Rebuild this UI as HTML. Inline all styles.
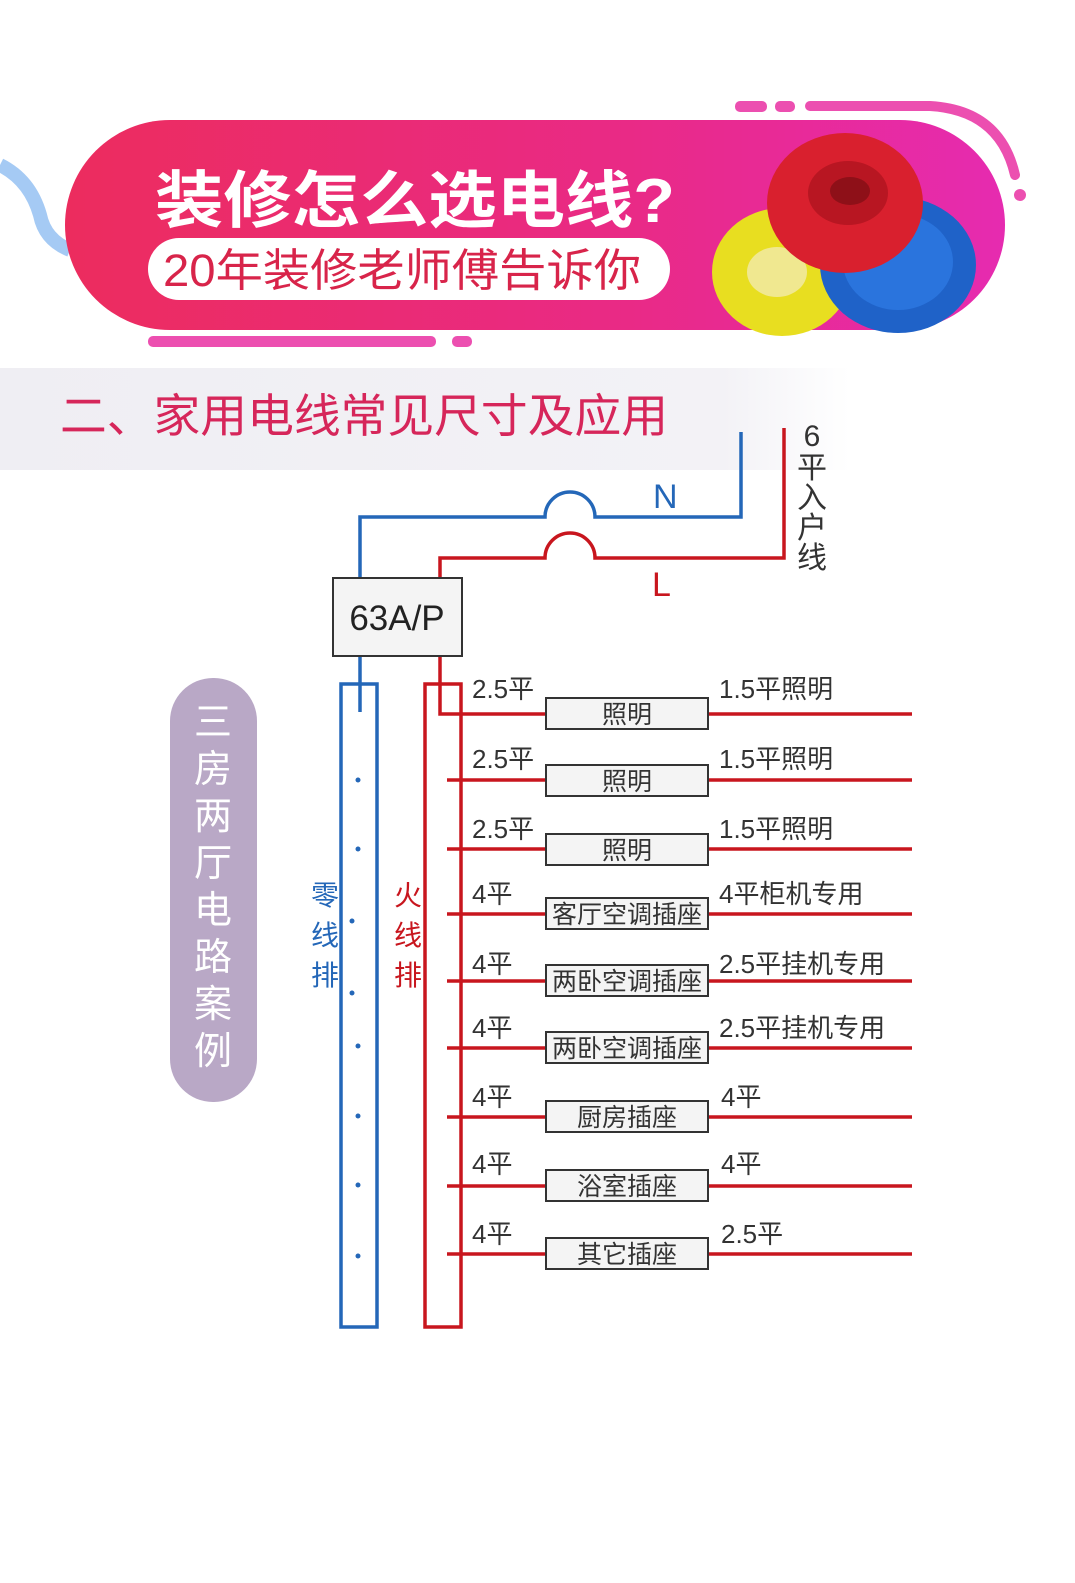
<!DOCTYPE html>
<html><head><meta charset="utf-8"><style>
html,body{margin:0;padding:0;background:#fff}
svg{display:block}
text{font-family:"Liberation Sans","Noto Sans CJK SC",sans-serif}
</style></head><body>
<svg width="1075" height="1583" viewBox="0 0 1075 1583" xmlns="http://www.w3.org/2000/svg">
<defs>
<linearGradient id="pg" x1="0" x2="1" y1="0" y2="0">
<stop offset="0" stop-color="#ec2c5e"/><stop offset="0.6" stop-color="#e92a86"/><stop offset="1" stop-color="#e62bb0"/>
</linearGradient>
<linearGradient id="band" x1="0" x2="1"><stop offset="0" stop-color="#efeef3"/><stop offset="0.85" stop-color="#f3f2f6"/><stop offset="1" stop-color="#ffffff"/></linearGradient>
</defs>
<rect width="1075" height="1583" fill="#fff"/>
<path d="M0 165 Q30 180 40 215 Q45 240 70 250" stroke="#7fb3f0" stroke-width="14" fill="none" opacity="0.7"/>
<rect x="735" y="101" width="32" height="11" rx="5" fill="#ec4fb0"/>
<rect x="775" y="101" width="20" height="11" rx="5" fill="#ec4fb0"/>
<path d="M810 106 L930 106 Q1000 110 1015 175" stroke="#ec4fb0" stroke-width="10" fill="none" stroke-linecap="round"/>
<circle cx="1020" cy="195" r="6" fill="#ec4fb0"/>
<rect x="148" y="336" width="288" height="11" rx="5" fill="#ec4fb0"/>
<rect x="452" y="336" width="20" height="11" rx="5" fill="#ec4fb0"/>
<rect x="65" y="120" width="940" height="210" rx="105" fill="url(#pg)"/>
<text x="155" y="222" font-size="62" font-weight="bold" fill="#fff" textLength="520" lengthAdjust="spacingAndGlyphs">装修怎么选电线?</text>
<rect x="148" y="238" width="522" height="62" rx="31" fill="#fff"/>
<text x="163" y="286" font-size="45" fill="#d8244a" textLength="478" lengthAdjust="spacingAndGlyphs">20年装修老师傅告诉你</text>
<ellipse cx="782" cy="272" rx="70" ry="64" fill="#e8de20"/>
<ellipse cx="777" cy="272" rx="30" ry="25" fill="#f0e890"/>
<ellipse cx="898" cy="265" rx="78" ry="68" fill="#1f62c8"/>
<ellipse cx="898" cy="262" rx="55" ry="48" fill="#2a74dd"/>
<ellipse cx="845" cy="203" rx="78" ry="70" fill="#d9202e"/>
<ellipse cx="848" cy="193" rx="40" ry="32" fill="#b81622"/>
<ellipse cx="850" cy="191" rx="20" ry="14" fill="#8e1018"/>
<rect x="0" y="368" width="850" height="102" fill="url(#band)"/>
<text x="60" y="432" font-size="46" fill="#d6265a" textLength="608" lengthAdjust="spacingAndGlyphs">二、家用电线常见尺寸及应用</text>
<g fill="none" stroke-width="3.5">
<path d="M741 432 V517 H595 A25 25 0 0 0 545 517 H360 V578" stroke="#2467b8"/>
<path d="M784 428 V558 H595 A25 25 0 0 0 545 558 H440 V578" stroke="#c8161e"/>
<path d="M360 656 V712" stroke="#2467b8"/>
<path d="M440 656 V714 H545" stroke="#c8161e"/>
<rect x="341" y="684" width="36" height="643" stroke="#2467b8"/>
<rect x="425" y="684" width="36" height="643" stroke="#c8161e"/>
</g>
<text x="653" y="508" font-size="34" fill="#2467b8">N</text>
<text x="652" y="596" font-size="34" fill="#c8161e">L</text>
<g font-size="30" fill="#333" text-anchor="middle">
<text x="812" y="446">6</text><text x="812" y="478">平</text><text x="812" y="508">入</text><text x="812" y="538">户</text><text x="812" y="568">线</text>
</g>
<rect x="333" y="578" width="129" height="78" fill="#f4f4f4" stroke="#333" stroke-width="2"/>
<text x="397" y="630" font-size="35" fill="#222" text-anchor="middle">63A/P</text>
<g fill="#2467b8">
<circle cx="358" cy="780" r="2.5"/><circle cx="358" cy="849" r="2.5"/><circle cx="352" cy="921" r="2.5"/><circle cx="352" cy="993" r="2.5"/><circle cx="358" cy="1046" r="2.5"/><circle cx="358" cy="1116" r="2.5"/><circle cx="358" cy="1185" r="2.5"/><circle cx="358" cy="1256" r="2.5"/>
</g>
<g font-size="28" fill="#2467b8" text-anchor="middle"><text x="325" y="905">零</text><text x="325" y="945">线</text><text x="325" y="985">排</text></g>
<g font-size="28" fill="#c8161e" text-anchor="middle"><text x="408" y="905">火</text><text x="408" y="945">线</text><text x="408" y="985">排</text></g>
<rect x="170" y="678" width="87" height="424" rx="43" fill="#b9a8c6"/>
<g font-size="38" fill="#fff" text-anchor="middle">
<text x="213" y="735">三</text><text x="213" y="782">房</text><text x="213" y="829">两</text><text x="213" y="876">厅</text><text x="213" y="923">电</text><text x="213" y="970">路</text><text x="213" y="1017">案</text><text x="213" y="1064">例</text>
</g>
<g font-size="25" fill="#333">
<g stroke="#c8161e" stroke-width="3.5">
<line x1="708" y1="714" x2="912" y2="714"/>
<line x1="447" y1="780" x2="545" y2="780"/><line x1="708" y1="780" x2="912" y2="780"/>
<line x1="447" y1="849" x2="545" y2="849"/><line x1="708" y1="849" x2="912" y2="849"/>
<line x1="447" y1="914" x2="545" y2="914"/><line x1="708" y1="914" x2="912" y2="914"/>
<line x1="447" y1="981" x2="545" y2="981"/><line x1="708" y1="981" x2="912" y2="981"/>
<line x1="447" y1="1048" x2="545" y2="1048"/><line x1="708" y1="1048" x2="912" y2="1048"/>
<line x1="447" y1="1117" x2="545" y2="1117"/><line x1="708" y1="1117" x2="912" y2="1117"/>
<line x1="447" y1="1186" x2="545" y2="1186"/><line x1="708" y1="1186" x2="912" y2="1186"/>
<line x1="447" y1="1254" x2="545" y2="1254"/><line x1="708" y1="1254" x2="912" y2="1254"/>
</g>
<g fill="#f4f4f4" stroke="#333" stroke-width="2">
<rect x="546" y="698" width="162" height="31"/>
<rect x="546" y="765" width="162" height="31"/>
<rect x="546" y="834" width="162" height="31"/>
<rect x="546" y="898" width="162" height="31"/>
<rect x="546" y="965" width="162" height="31"/>
<rect x="546" y="1032" width="162" height="31"/>
<rect x="546" y="1101" width="162" height="31"/>
<rect x="546" y="1170" width="162" height="31"/>
<rect x="546" y="1238" width="162" height="31"/>
</g>
<g text-anchor="middle">
<text x="627" y="723">照明</text><text x="627" y="790">照明</text><text x="627" y="859">照明</text>
<text x="627" y="923">客厅空调插座</text><text x="627" y="990">两卧空调插座</text><text x="627" y="1057">两卧空调插座</text>
<text x="627" y="1126">厨房插座</text><text x="627" y="1195">浴室插座</text><text x="627" y="1263">其它插座</text>
</g>
<g font-size="26">
<text x="472" y="698">2.5平</text><text x="472" y="768">2.5平</text><text x="472" y="838">2.5平</text>
<text x="472" y="903">4平</text><text x="472" y="973">4平</text><text x="472" y="1037">4平</text>
<text x="472" y="1106">4平</text><text x="472" y="1173">4平</text><text x="472" y="1243">4平</text>
<text x="719" y="698">1.5平照明</text><text x="719" y="768">1.5平照明</text><text x="719" y="838">1.5平照明</text>
<text x="719" y="903">4平柜机专用</text><text x="719" y="973">2.5平挂机专用</text><text x="719" y="1037">2.5平挂机专用</text>
<text x="721" y="1106">4平</text><text x="721" y="1173">4平</text><text x="721" y="1243">2.5平</text>
</g>
</g>
</svg>
</body></html>
